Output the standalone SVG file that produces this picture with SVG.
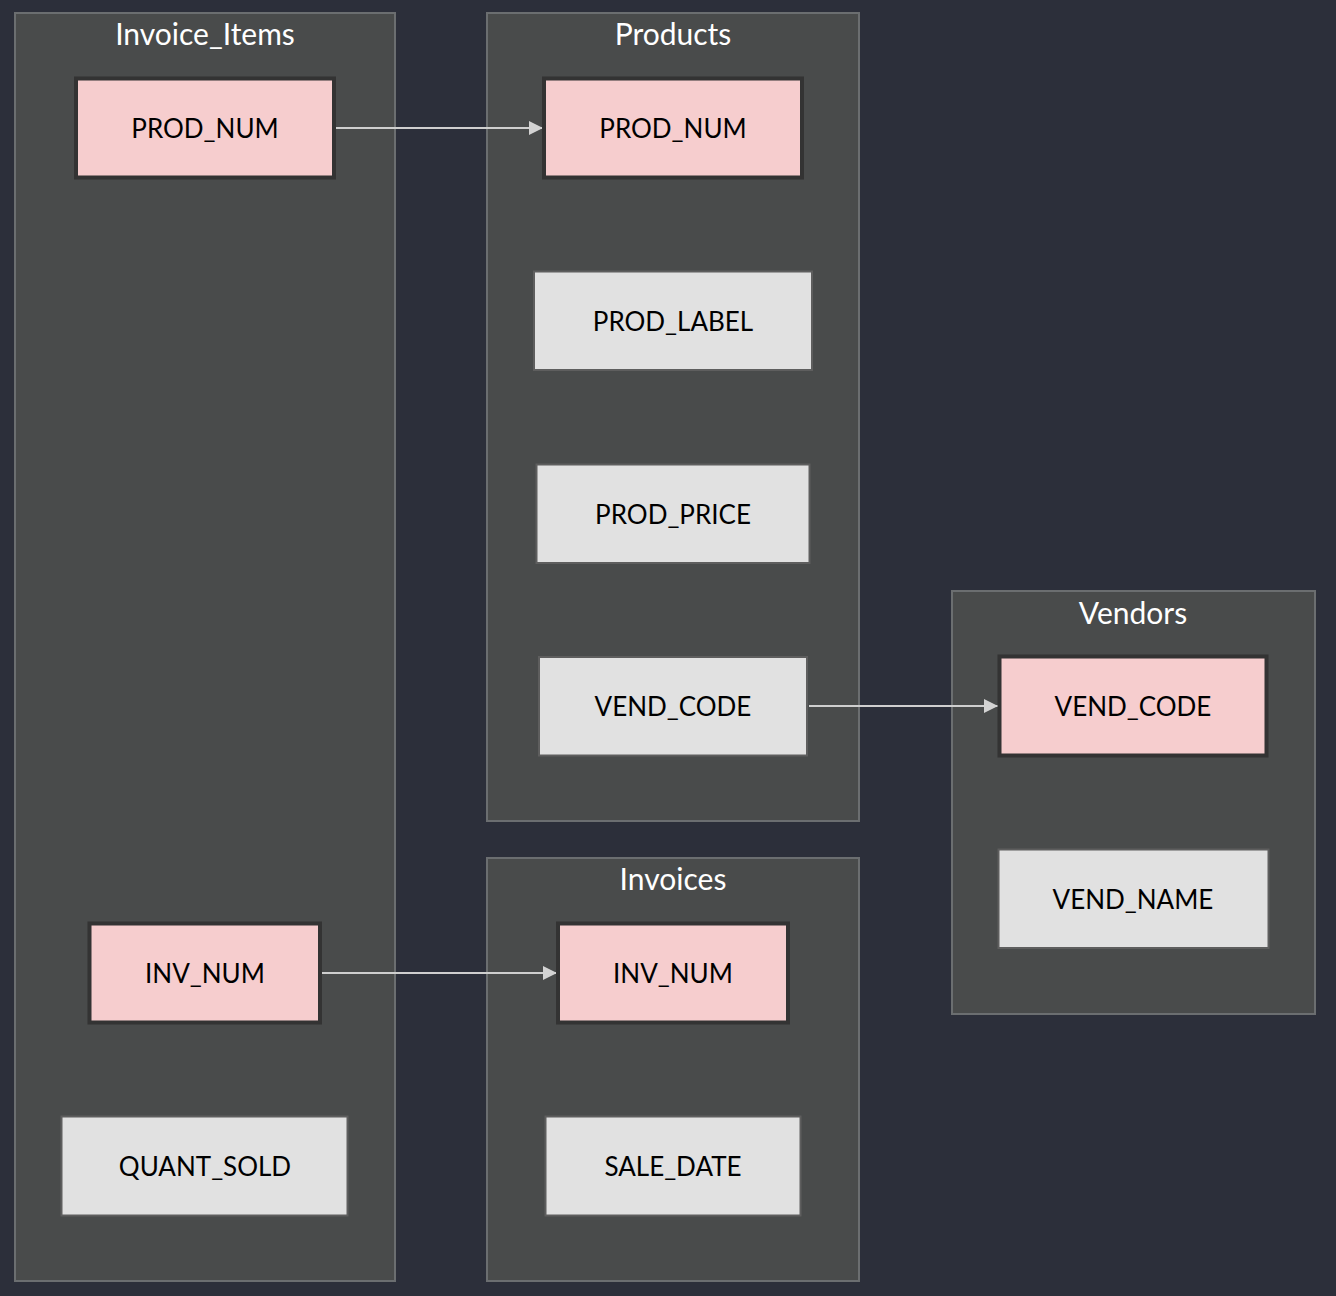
<svg xmlns="http://www.w3.org/2000/svg" width="1336" height="1296" viewBox="0 0 1336 1296">
<defs>
<style>
.cl{fill:#494b4b;stroke:#6b6e70;stroke-width:2}
.ct{fill:#ffffff;font-family:Lato,"Liberation Sans",sans-serif;font-size:30px;text-anchor:middle}
.pk{fill:#f6cdce;stroke:#333333;stroke-width:4}
.gy{fill:#e1e1e1;stroke:#5e5e5e;stroke-width:2}
.nt{fill:#000000;font-family:Lato,"Liberation Sans",sans-serif;font-size:26px;text-anchor:middle}
.ed{fill:none;stroke:#cfcfcf;stroke-width:2}
</style>
<marker id="ah" viewBox="0 0 14 14" refX="14" refY="7" markerWidth="14" markerHeight="14" markerUnits="userSpaceOnUse" orient="auto">
<path d="M0,0 L14,7 L0,14 Z" fill="#d3d3d3"/>
</marker>
</defs>
<rect x="0" y="0" width="1336" height="1296" fill="#2c2f3a"/>
<g id="cluster-Invoice_Items">
<rect class="cl" x="15" y="13" width="380" height="1268"/>
<text class="ct" x="205" y="45">Invoice_Items</text>
</g>
<g id="cluster-Products">
<rect class="cl" x="487" y="13" width="372" height="808"/>
<text class="ct" x="673" y="45">Products</text>
</g>
<g id="cluster-Vendors">
<rect class="cl" x="952" y="591" width="363" height="423"/>
<text class="ct" x="1133" y="624">Vendors</text>
</g>
<g id="cluster-Invoices">
<rect class="cl" x="487" y="858" width="372" height="423"/>
<text class="ct" x="673" y="890">Invoices</text>
</g>
<g id="edges">
<line class="ed" x1="336" y1="128" x2="543" y2="128" marker-end="url(#ah)"/>
<line class="ed" x1="809" y1="706" x2="998" y2="706" marker-end="url(#ah)"/>
<line class="ed" x1="322" y1="973" x2="557" y2="973" marker-end="url(#ah)"/>
</g>
<g id="ii-prod-num">
<rect class="pk" x="76" y="78.5" width="258" height="99"/>
<text class="nt" x="205" y="137.5">PROD_NUM</text>
</g>
<g id="ii-inv-num">
<rect class="pk" x="89.5" y="923.5" width="230.5" height="99"/>
<text class="nt" x="205" y="982.5">INV_NUM</text>
</g>
<g id="ii-quant-sold">
<rect class="gy" x="61.5" y="1116.5" width="286" height="99"/>
<text class="nt" x="205" y="1175.5">QUANT_SOLD</text>
</g>
<g id="p-prod-num">
<rect class="pk" x="544" y="78.5" width="258" height="99"/>
<text class="nt" x="673" y="137.5">PROD_NUM</text>
</g>
<g id="p-prod-label">
<rect class="gy" x="534" y="271.5" width="278" height="98.5"/>
<text class="nt" x="673" y="330.5">PROD_LABEL</text>
</g>
<g id="p-prod-price">
<rect class="gy" x="536.5" y="464.5" width="273" height="98.5"/>
<text class="nt" x="673" y="523.5">PROD_PRICE</text>
</g>
<g id="p-vend-code">
<rect class="gy" x="539" y="657" width="268" height="98.5"/>
<text class="nt" x="673" y="715.5">VEND_CODE</text>
</g>
<g id="v-vend-code">
<rect class="pk" x="999.5" y="656.5" width="267" height="99"/>
<text class="nt" x="1133" y="715.5">VEND_CODE</text>
</g>
<g id="v-vend-name">
<rect class="gy" x="998.5" y="849.5" width="270" height="98.5"/>
<text class="nt" x="1133" y="908.5">VEND_NAME</text>
</g>
<g id="i-inv-num">
<rect class="pk" x="558" y="923.5" width="230" height="99"/>
<text class="nt" x="673" y="982.5">INV_NUM</text>
</g>
<g id="i-sale-date">
<rect class="gy" x="545.5" y="1116.5" width="255" height="99"/>
<text class="nt" x="673" y="1175.5">SALE_DATE</text>
</g>
</svg>
